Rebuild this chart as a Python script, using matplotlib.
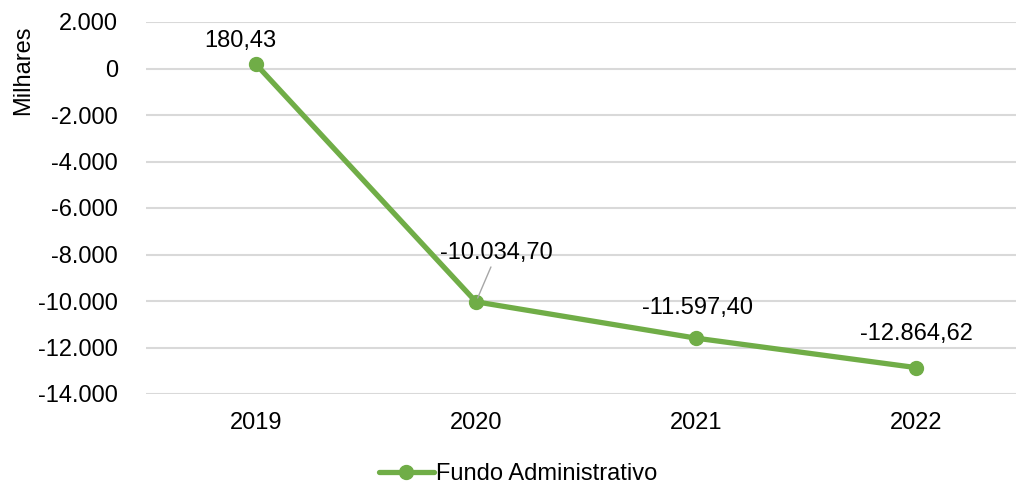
import matplotlib.pyplot as plt
from matplotlib.ticker import FuncFormatter

plt.rcParams['font.family'] = ['Liberation Sans', 'DejaVu Sans']

anos = ['2019', '2020', '2021', '2022']
valores = [180.43, -10034.70, -11597.40, -12864.62]
rotulos = ['180,43', '-10.034,70', '-11.597,40', '-12.864,62']
serie = 'Fundo Administrativo'

verde = '#70AD47'
fs = 17


def milhar(v, pos):
    s = '{:,.0f}'.format(v).replace(',', '.')
    return s


fig = plt.figure(figsize=(10.16, 4.87), dpi=100)
ax = fig.add_axes([146 / 1016, 1 - 394 / 487, 880 / 1016, 372 / 487])

x = list(range(len(anos)))
ax.plot(x, valores, color=verde, lw=3.8, marker='o', ms=10, label=serie, zorder=3,
        solid_capstyle='round')

ax.set_xlim(-0.5, 3.5)
ax.set_ylim(-14000, 2000)
ax.set_yticks(range(-14000, 2001, 2000))
ax.yaxis.set_major_formatter(FuncFormatter(milhar))
ax.set_xticks(x)
ax.set_xticklabels(anos)
ax.tick_params(axis='both', length=0, labelsize=fs, colors='black')
ax.tick_params(axis='y', pad=20)
ax.tick_params(axis='x', pad=13)
ax.grid(axis='y', color='#D9D9D9', lw=1.5)
ax.set_axisbelow(True)
for s in ax.spines.values():
    s.set_visible(False)

ax.set_ylabel('Milhares', fontsize=fs)
ax.yaxis.set_label_coords(-0.127, 0.87)

# rótulos de dados
offs = [(-11.5, 17), (15, 35), (1.4, 22), (0, 24)]
for i, (v, t) in enumerate(zip(valores, rotulos)):
    if i == 1:
        ax.annotate(t, (i, v), xytext=offs[i], textcoords='offset points',
                    ha='center', va='center', fontsize=fs,
                    arrowprops=dict(arrowstyle='-', color='#A6A6A6', lw=1,
                                    shrinkA=0, shrinkB=3))
    else:
        ax.annotate(t, (i, v), xytext=offs[i], textcoords='offset points',
                    ha='center', va='center', fontsize=fs)

fig.legend(loc='lower center', bbox_to_anchor=(0.51, -0.04), frameon=False,
           fontsize=fs, handlelength=2.3, handletextpad=0.1)

fig.savefig('out.png', dpi=100)
